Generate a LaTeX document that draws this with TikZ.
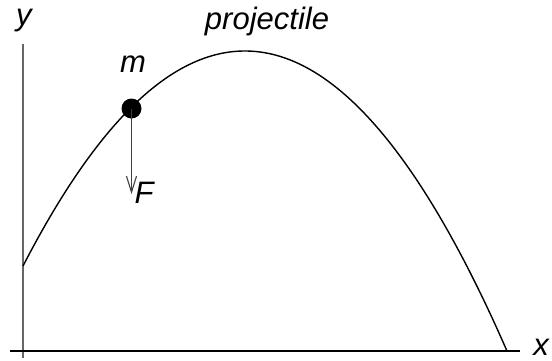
\documentclass[tikz,border=0pt]{standalone}
\usepackage{fontspec}
\setmainfont{Liberation Sans}
\usetikzlibrary{arrows.meta}
\begin{document}
\begin{tikzpicture}[x=1pt,y=-1pt,
  lbl/.style={font=\fontsize{31}{31}\selectfont\itshape, inner sep=0pt, anchor=base},
  axis/.style={line width=1.4pt},
  curve/.style={line width=1.4pt, black},
  force/.style={line width=1.1pt, black!75, -{Straight Barb[length=16pt,width=10pt,line width=1.1pt]}}]
\useasboundingbox (0,0) rectangle (552,360);
% axes
\coordinate (yb) at (23,358);
\coordinate (yt) at (23,44);
\coordinate (xl) at (10,351);
\coordinate (xr) at (520,351);
\draw[axis, black!60] (yb) -- (yt);
\draw[axis, black] (xl) -- (xr);
% trajectory
\coordinate (s) at (23,266);
\coordinate (c1) at (184.33,-46.67);
\coordinate (c2) at (345.67,-18.33);
\coordinate (e) at (507,351);
\draw[curve] (s) .. controls (c1) and (c2) .. (e);
% mass
\node[circle, fill=black, minimum size=20pt, inner sep=0pt] (m) at (131.5,108.5) {};
\coordinate (ftip) at (131.5,194);
\draw[force] (m.center) -- (ftip);
% labels
\node[lbl] (ly) at (24,25) {y};
\node[lbl] (lx) at (541,355) {x};
\node[lbl] (lm) at (133,72) {m};
\node[lbl] (lF) at (144,203) {F};
\node[lbl] (lp) at (267,29) {projectile};
\end{tikzpicture}
\end{document}
